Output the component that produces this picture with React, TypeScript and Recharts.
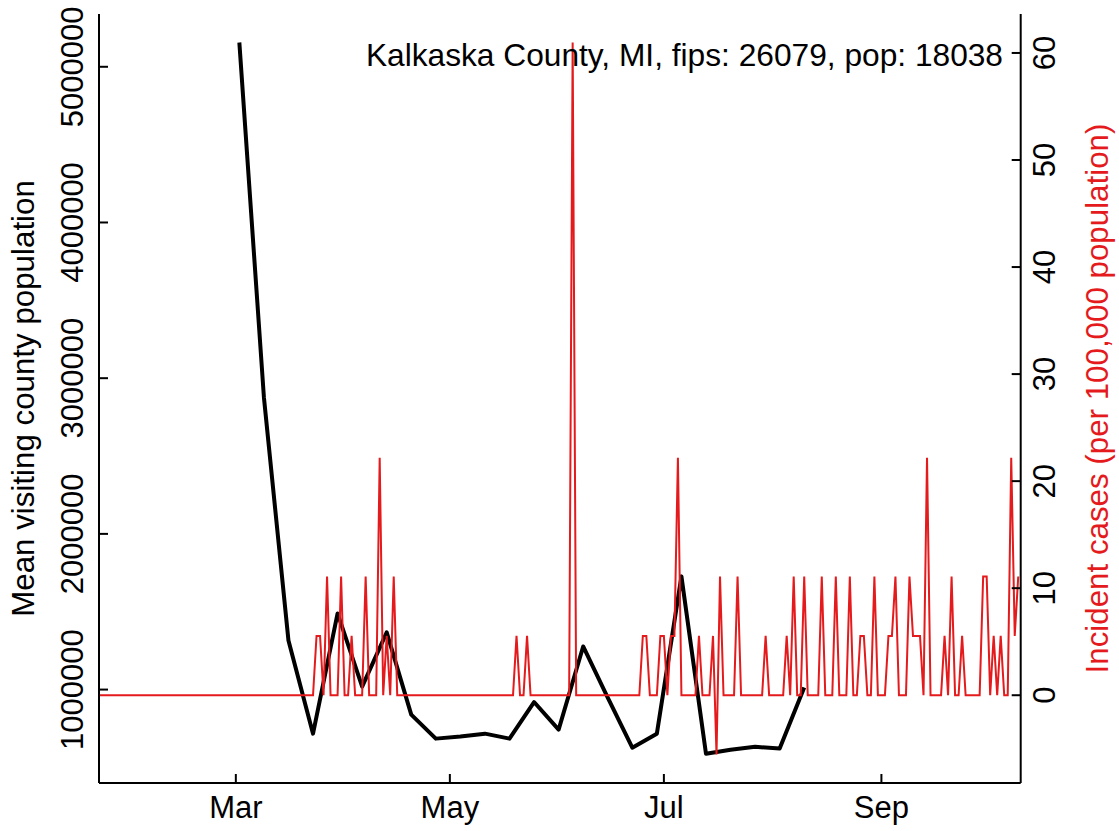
import React from 'react';
import { ComposedChart, Line, XAxis, YAxis } from 'recharts';

const FONT = '"Liberation Sans", Arial, Helvetica, sans-serif';
const RED = '#e41a1c';

// x axis: day index of 2020 (Jan 1 = 0)
const START_DAY = 21; // 2020-01-22
const END_DAY = 283.7;
const xTickDays = [60, 121, 182, 244];
const xTickLabels = ['Mar', 'May', 'Jul', 'Sep'];

const leftTicks = [1000000, 2000000, 3000000, 4000000, 5000000];
const rightTicks = [0, 10, 20, 30, 40, 50, 60];

const chartTitle = 'Kalkaska County, MI, fips: 26079, pop: 18038';
const leftAxisTitle = 'Mean visiting county population';
const rightAxisTitle = 'Incident cases (per 100,000 population)';

// weekly mean visiting county population
const visitDays = [61, 68, 75, 82, 89, 96, 103, 110, 117, 124, 131, 138, 145, 152, 159, 166, 173, 180, 187, 194, 201, 208, 215, 222];
const visitValues = [5156000, 2878000, 1315000, 717000, 1489000, 1019000, 1367000, 839000, 685000, 698000, 717000, 685000, 920000, 743000, 1277000, 949000, 627000, 717000, 1727000, 588000, 614000, 633000, 621000, 1013000];

// daily incident cases per 100,000 population, from day 21 (Jan 22)
const incidentValues = [
  // 21-30
  0, 0, 0, 0, 0, 0, 0, 0, 0, 0,
  // 31-40
  0, 0, 0, 0, 0, 0, 0, 0, 0, 0,
  // 41-50
  0, 0, 0, 0, 0, 0, 0, 0, 0, 0,
  // 51-60
  0, 0, 0, 0, 0, 0, 0, 0, 0, 0,
  // 61-70
  0, 0, 0, 0, 0, 0, 0, 0, 0, 0,
  // 71-80
  0, 0, 0, 0, 0, 0, 0, 0, 0, 0,
  // 81-90
  0, 0, 5.54, 5.54, 0, 11.09, 0, 0, 0, 11.09,
  // 91-100
  0, 0, 5.54, 0, 0, 0, 11.09, 0, 0, 0,
  // 101-110
  22.18, 0, 5.54, 0, 11.09, 0, 0, 0, 0, 0,
  // 111-120
  0, 0, 0, 0, 0, 0, 0, 0, 0, 0,
  // 121-130
  0, 0, 0, 0, 0, 0, 0, 0, 0, 0,
  // 131-140
  0, 0, 0, 0, 0, 0, 0, 0, 0, 5.54,
  // 141-150
  0, 0, 5.54, 0, 0, 0, 0, 0, 0, 0,
  // 151-160
  0, 0, 0, 0, 0, 60.98, 0, 0, 0, 0,
  // 161-170
  0, 0, 0, 0, 0, 0, 0, 0, 0, 0,
  // 171-180
  0, 0, 0, 0, 0, 5.54, 5.54, 0, 0, 0,
  // 181-190
  5.54, 5.54, 0, 5.54, 5.54, 22.18, 0, 0, 0, 0,
  // 191-200
  0, 5.54, 0, 0, 0, 5.54, -5.54, 11.09, 0, 0,
  // 201-210
  0, 0, 11.09, 0, 0, 0, 0, 0, 0, 0,
  // 211-220
  5.54, 0, 0, 0, 0, 0, 5.54, 0, 11.09, 0,
  // 221-230
  0, 11.09, 0, 0, 0, 0, 11.09, 0, 0, 0,
  // 231-240
  11.09, 0, 0, 0, 11.09, 0, 0, 5.54, 5.54, 0,
  // 241-250
  0, 11.09, 0, 0, 0, 5.54, 5.54, 11.09, 0, 0,
  // 251-260
  0, 11.09, 5.54, 5.54, 5.54, 0, 22.18, 0, 0, 0,
  // 261-270
  0, 5.54, 0, 11.09, 0, 0, 5.54, 0, 0, 0,
  // 271-280
  0, 0, 11.09, 11.09, 0, 5.54, 0, 5.54, 0, 0,
  // 281-283
  22.18, 5.54, 11.09,
];

const visitData = visitDays.map((day, i) => ({ day, visits: visitValues[i] }));
const incidentData = incidentValues.map((v, i) => ({ day: START_DAY + i, incident: v }));

const LeftTick = (props: any) => {
  const { x, y, payload } = props;
  const bx = x - 15.5;
  return (
    <g>
      <line x1={x} x2={x + 9} y1={y} y2={y} stroke="#000" strokeWidth={2} />
      <text x={bx} y={y} transform={`rotate(-90 ${bx} ${y})`} textAnchor="middle" fontSize={31} fontFamily={FONT} fill="#000">
        {String(payload.value)}
      </text>
    </g>
  );
};

const RightTick = (props: any) => {
  const { x, y, payload } = props;
  const bx = x + 34.5;
  return (
    <g>
      <line x1={x - 9} x2={x} y1={y} y2={y} stroke="#000" strokeWidth={2} />
      <text x={bx} y={y} transform={`rotate(-90 ${bx} ${y})`} textAnchor="middle" fontSize={31} fontFamily={FONT} fill="#000">
        {String(payload.value)}
      </text>
    </g>
  );
};

const BottomTick = (props: any) => {
  const { x, y, payload } = props;
  const idx = xTickDays.indexOf(payload.value);
  return (
    <g>
      <line x1={x} x2={x} y1={y} y2={y - 9} stroke="#000" strokeWidth={2} />
      <text x={x} y={y + 35} textAnchor="middle" fontSize={31} fontFamily={FONT} fill="#000">
        {idx >= 0 ? xTickLabels[idx] : ''}
      </text>
    </g>
  );
};

const LeftTitle = (props: any) => {
  const vb = props.viewBox || { x: 0, y: 14, width: 99, height: 769 };
  const cy = vb.y + vb.height / 2;
  const bx = 33.5;
  return (
    <g>
      <text x={bx} y={cy} transform={`rotate(-90 ${bx} ${cy})`} textAnchor="middle" fontSize={31.3} fontFamily={FONT} fill="#000">
        {leftAxisTitle}
      </text>
      <text x={1003} y={66} textAnchor="end" fontSize={31.7} fontFamily={FONT} fill="#000">
        {chartTitle}
      </text>
    </g>
  );
};

const RightTitle = (props: any) => {
  const vb = props.viewBox || { x: 1020.7, y: 14, width: 98.3, height: 769 };
  const cy = vb.y + vb.height / 2;
  const bx = vb.x + 87.6;
  return (
    <text x={bx} y={cy} transform={`rotate(-90 ${bx} ${cy})`} textAnchor="middle" fontSize={31.3} fontFamily={FONT} fill={RED}>
      {rightAxisTitle}
    </text>
  );
};

export default function App() {
  return (
    <div style={{ position: 'absolute', left: 0, top: 0, width: 1119, height: 831, background: '#fff' }}>
      <ComposedChart width={1119} height={831} margin={{ top: 14, right: 0, bottom: 0, left: 0 }}>
        <XAxis
          xAxisId="bottom"
          dataKey="day"
          type="number"
          domain={[START_DAY, END_DAY]}
          allowDataOverflow
          ticks={xTickDays}
          interval={0}
          height={48}
          tickSize={0}
          tickMargin={0}
          tick={<BottomTick />}
          axisLine={{ stroke: '#000', strokeWidth: 2 }}
          tickLine={false}
        />
        <XAxis
          xAxisId="top"
          orientation="top"
          dataKey="day"
          type="number"
          domain={[START_DAY, END_DAY]}
          allowDataOverflow
          height={0}
          tick={false}
          tickLine={false}
          axisLine={{ stroke: '#000', strokeWidth: 2 }}
        />
        <YAxis
          yAxisId="left"
          orientation="left"
          type="number"
          domain={[400000, 5339000]}
          allowDataOverflow
          ticks={leftTicks}
          interval={0}
          width={99}
          tickSize={0}
          tickMargin={0}
          tick={<LeftTick />}
          tickLine={false}
          axisLine={{ stroke: '#000', strokeWidth: 2 }}
          label={<LeftTitle />}
        />
        <YAxis
          yAxisId="right"
          orientation="right"
          type="number"
          domain={[-8.2, 63.64]}
          allowDataOverflow
          ticks={rightTicks}
          interval={0}
          width={98.3}
          tickSize={0}
          tickMargin={0}
          tick={<RightTick />}
          tickLine={false}
          axisLine={{ stroke: '#000', strokeWidth: 2 }}
          label={<RightTitle />}
        />
        <Line
          data={visitData}
          dataKey="visits"
          xAxisId="bottom"
          yAxisId="left"
          type="linear"
          stroke="#000"
          strokeWidth={4}
          dot={false}
          activeDot={false}
          isAnimationActive={false}
          strokeLinejoin="round"
        />
        <Line
          data={incidentData}
          dataKey="incident"
          xAxisId="bottom"
          yAxisId="right"
          type="linear"
          stroke={RED}
          strokeWidth={2}
          dot={false}
          activeDot={false}
          isAnimationActive={false}
        />
      </ComposedChart>
    </div>
  );
}
